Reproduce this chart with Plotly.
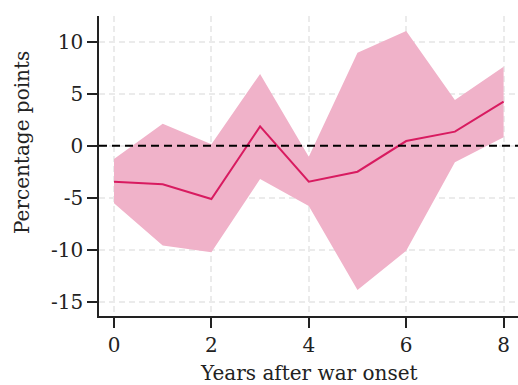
import plotly.graph_objects as go

# Event-study estimates with 95% confidence band
years = [0, 1, 2, 3, 4, 5, 6, 7, 8]
estimate = [-3.46, -3.71, -5.13, 1.86, -3.46, -2.50, 0.45, 1.35, 4.23]
upper = [-1.28, 2.12, 0.13, 6.90, -1.06, 8.94, 11.03, 4.39, 7.60]
lower = [-5.54, -9.60, -10.25, -3.20, -5.80, -13.87, -10.10, -1.60, 0.81]

x_ticks = [0, 2, 4, 6, 8]
y_ticks = [-15, -10, -5, 0, 5, 10]
y_tick_labels = ["-15", "-10", "-5", "0", "5", "10"]

FONT = "DejaVu Serif"
FILL = "#f0b2c9"
LINE = "#d81b60"

fig = go.Figure()

fig.add_trace(go.Scatter(
    x=years + years[::-1],
    y=upper + lower[::-1],
    fill="toself",
    fillcolor=FILL,
    line=dict(width=0),
    mode="lines",
    hoverinfo="skip",
    showlegend=False,
))
fig.add_trace(go.Scatter(
    x=years, y=estimate, mode="lines",
    line=dict(color=LINE, width=2),
    showlegend=False,
))

# zero reference line
fig.add_hline(y=0, line=dict(color="black", width=2, dash="8px,5px"), layer="above")

fig.update_layout(
    width=518, height=385,
    margin=dict(l=99, r=0, t=16, b=69),
    plot_bgcolor="white", paper_bgcolor="white",
    font=dict(family=FONT, size=20, color="#222222"),
    xaxis=dict(
        range=[-0.308, 8.296],
        tickvals=x_ticks,
        ticks="outside", ticklen=10, tickwidth=1.5, tickcolor="#222222",
        showline=True, linecolor="#222222", linewidth=1.5,
        showgrid=True, gridcolor="#ebebeb", gridwidth=1.5, griddash="6px,4px",
        zeroline=False,
        tickfont=dict(family=FONT, size=20),
    ),
    yaxis=dict(
        range=[-16.37, 12.47],
        tickvals=y_ticks, ticktext=y_tick_labels,
        ticks="outside", ticklen=10, tickwidth=1.5, tickcolor="#222222",
        showline=True, linecolor="#222222", linewidth=1.5,
        showgrid=True, gridcolor="#ebebeb", gridwidth=1.5, griddash="6px,4px",
        zeroline=False,
        tickfont=dict(family=FONT, size=20),
    ),
    annotations=[
        dict(text="Years after war onset", xref="paper", yref="paper",
             x=0.5, y=0, yshift=-57, xanchor="center", yanchor="middle",
             showarrow=False, font=dict(family=FONT, size=20)),
        dict(text="Percentage points", xref="paper", yref="paper",
             x=0, y=0.5, xshift=-77, yshift=23, textangle=-90,
             xanchor="center", yanchor="middle",
             showarrow=False, font=dict(family=FONT, size=20)),
    ],
)

fig.write_html("out.html")
